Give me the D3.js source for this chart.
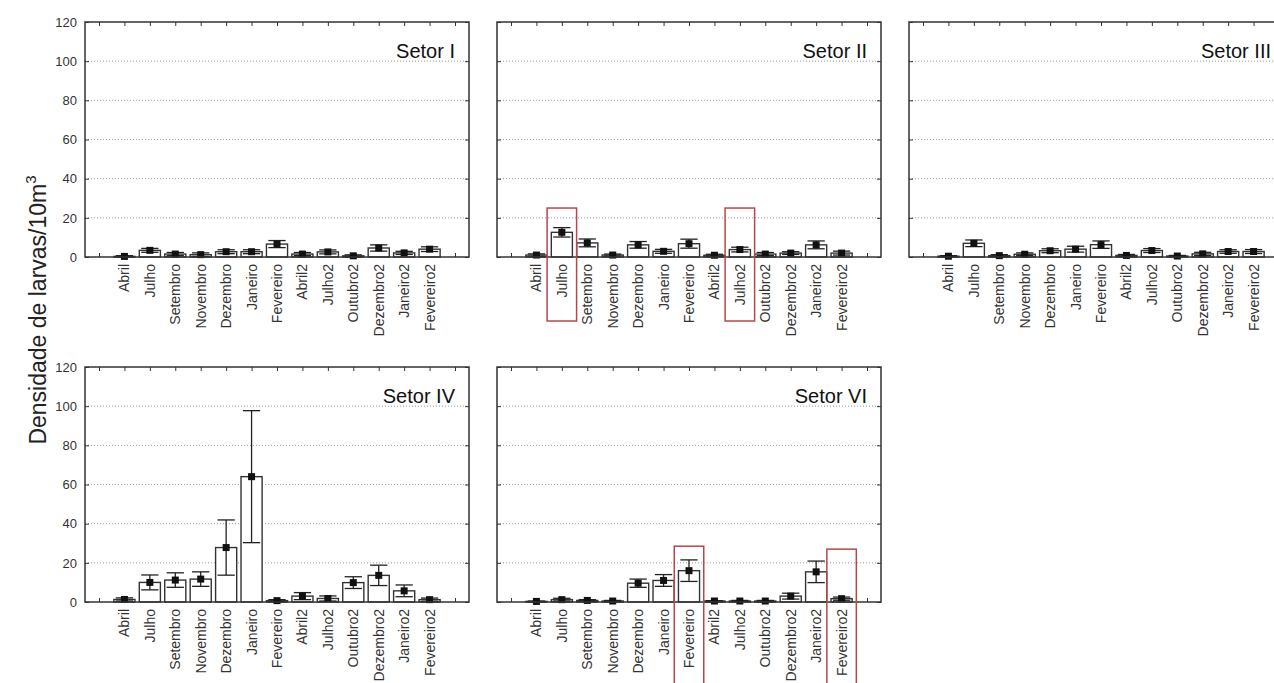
<!DOCTYPE html>
<html>

<head>
  <title>Densidade de larvas</title>
  <script src="https://cdn.jsdelivr.net/npm/d3@7"></script>
  <style>
    body { margin: 0; background: #fff; }
    text { font-family: "Liberation Sans", Arial, sans-serif; }
  </style>
</head>

<body>
  <svg width="1274" height="683" id="mainsvg"></svg>
  <script>
    // months sampled (second campaign suffixed with 2)
    const categories = ['Abril', 'Julho', 'Setembro', 'Novembro', 'Dezembro', 'Janeiro', 'Fevereiro',
      'Abril2', 'Julho2', 'Outubro2', 'Dezembro2', 'Janeiro2', 'Fevereiro2'];
    const sectors = ['Setor I', 'Setor II', 'Setor III', 'Setor IV', 'Setor VI'];

    // mean density and error (half length of the bar) per sector
    const meanI = [0.3, 3.4, 1.5, 1.2, 2.7, 2.7, 6.6, 1.5, 2.6, 0.6, 4.6, 2.1, 4.0];
    const errI = [0.4, 1.0, 0.8, 0.9, 1.0, 1.0, 1.8, 0.8, 1.0, 0.5, 1.6, 0.8, 1.2];
    const meanII = [1.0, 12.6, 7.2, 1.0, 6.2, 2.9, 6.8, 0.9, 3.8, 1.5, 2.0, 6.2, 2.0];
    const errII = [0.6, 2.4, 2.0, 0.5, 1.7, 1.0, 2.3, 0.5, 1.2, 0.8, 0.7, 2.0, 1.0];
    const meanIII = [0.4, 7.0, 0.7, 1.4, 3.2, 4.0, 6.3, 0.8, 3.3, 0.5, 1.6, 2.8, 2.8];
    const errIII = [0.3, 1.7, 0.5, 0.7, 1.0, 1.5, 1.9, 0.5, 1.0, 0.3, 0.8, 0.9, 1.0];
    const meanIV = [1.3, 10.0, 11.2, 11.7, 27.8, 64.0, 0.7, 3.0, 1.8, 9.9, 13.6, 5.7, 1.2];
    const errIV = [0.8, 3.8, 3.7, 3.7, 14.1, 33.7, 0.5, 1.8, 1.3, 3.0, 5.2, 3.0, 0.8];
    const meanVI = [0.3, 1.2, 0.8, 0.5, 9.6, 11.0, 16.0, 0.5, 0.5, 0.5, 3.0, 15.4, 1.7];
    const errVI = [0.2, 0.7, 0.4, 0.3, 2.1, 3.0, 5.5, 0.2, 0.3, 0.3, 1.5, 5.5, 0.8];

    const yTicks = [0, 20, 40, 60, 80, 100, 120];

    // red boxes drawn over the figure (sector, month, box top in y units)
    const highlights = [
      ['Setor II', 'Julho', 25],
      ['Setor II', 'Julho2', 25],
      ['Setor VI', 'Fevereiro', 28.5],
      ['Setor VI', 'Fevereiro2', 27]
    ];

    const means = [meanI, meanII, meanIII, meanIV, meanVI];
    const errs = [errI, errII, errIII, errIV, errVI];

    const svg = d3.select('#mainsvg');
    const W = +svg.attr('width');
    const pw = 384, ph = 235;
    const origins = [[85, 22], [497, 22], [909, 22], [85, 367], [497, 367]];

    const x = d3.scaleLinear().domain([-0.55, 14.55]).range([0, pw]);
    const y = d3.scaleLinear().domain([0, 120]).range([ph, 0]);
    const xPos = c => x(categories.indexOf(c) + 1);
    const unit = x(1) - x(0);

    sectors.forEach((name, si) => {
      const [ox, oy] = origins[si];
      const g = svg.append('g').attr('transform', `translate(${ox},${oy})`);
      const data = categories.map((c, i) => ({ c, m: means[si][i], e: errs[si][i] }));

      // dotted grid
      g.selectAll('.grid').data(yTicks.filter(t => t > 0 && t < 120)).join('line')
        .attr('x1', 0).attr('x2', pw).attr('y1', d => y(d)).attr('y2', d => y(d))
        .attr('stroke', '#9a9a9a').attr('stroke-width', 1).attr('stroke-dasharray', '1,2');

      // left axis, ticks point inside
      const ya = g.append('g').call(d3.axisLeft(y).tickValues(yTicks).tickSize(-4).tickPadding(8));
      ya.select('.domain').remove();
      ya.selectAll('line').attr('stroke', '#333');
      ya.selectAll('text').attr('font-size', 13).attr('fill', '#333')
        .attr('font-family', '"Liberation Sans", Arial, sans-serif');
      if (si !== 0 && si !== 3) ya.selectAll('text').remove();

      const ra = g.append('g').attr('transform', `translate(${pw},0)`)
        .call(d3.axisRight(y).tickValues(yTicks).tickSize(-4).tickFormat(''));
      ra.select('.domain').remove();
      ra.selectAll('line').attr('stroke', '#333');

      const ticks = d3.range(0, 15);
      const ta = g.append('g').call(d3.axisTop(x).tickValues(ticks).tickSize(-4).tickFormat(''));
      ta.select('.domain').remove();
      ta.selectAll('line').attr('stroke', '#333');
      const ba = g.append('g').attr('transform', `translate(0,${ph})`)
        .call(d3.axisBottom(x).tickValues(ticks).tickSize(-4).tickFormat(''));
      ba.select('.domain').remove();
      ba.selectAll('line').attr('stroke', '#333');

      // bars
      const bw = unit * 0.83;
      g.selectAll('.bar').data(data).join('rect')
        .attr('class', 'bar')
        .attr('x', d => xPos(d.c) - bw / 2).attr('width', bw)
        .attr('y', d => y(d.m)).attr('height', d => ph - y(d.m))
        .attr('fill', '#fff').attr('stroke', '#333').attr('stroke-width', 1.4);

      // error bars
      const cw = unit * 0.68;
      const eb = g.selectAll('.err').data(data).join('g').attr('class', 'err')
        .attr('stroke', '#222').attr('stroke-width', 1.3);
      eb.append('line').attr('x1', d => xPos(d.c)).attr('x2', d => xPos(d.c))
        .attr('y1', d => y(Math.max(0, d.m - d.e))).attr('y2', d => y(d.m + d.e));
      eb.append('line').attr('x1', d => xPos(d.c) - cw / 2).attr('x2', d => xPos(d.c) + cw / 2)
        .attr('y1', d => y(d.m + d.e)).attr('y2', d => y(d.m + d.e));
      eb.append('line').attr('x1', d => xPos(d.c) - cw / 2).attr('x2', d => xPos(d.c) + cw / 2)
        .attr('y1', d => y(Math.max(0, d.m - d.e))).attr('y2', d => y(Math.max(0, d.m - d.e)));

      // mean markers
      g.selectAll('.mk').data(data).join('rect')
        .attr('x', d => xPos(d.c) - 3.5).attr('y', d => y(d.m) - 3.5)
        .attr('width', 7).attr('height', 7).attr('fill', '#111');

      // frame
      g.append('rect').attr('width', pw).attr('height', ph)
        .attr('fill', 'none').attr('stroke', '#333').attr('stroke-width', 1.5);

      // month labels
      g.append('g')
        .selectAll('text').data(categories).join('text')
        .attr('transform', d => `translate(${xPos(d) + 5},${ph + 7}) rotate(-90)`)
        .attr('text-anchor', 'end')
        .attr('font-size', 14).attr('fill', '#333')
        .text(d => d);

      // sector title, kept inside the page for the clipped third panel
      g.append('text').attr('x', Math.min(pw - 14, W - 3 - ox)).attr('y', 36)
        .attr('text-anchor', 'end').attr('font-size', 20).attr('fill', '#111')
        .text(name);

      highlights.filter(h => h[0] === name).forEach(h => {
        g.append('rect')
          .attr('x', xPos(h[1]) - unit * 0.58).attr('width', unit * 1.16)
          .attr('y', y(h[2])).attr('height', ph - y(h[2]) + (si < 3 ? 64 : 90))
          .attr('fill', 'none').attr('stroke', '#b9464a').attr('stroke-width', 1.5);
      });
    });

    // shared y title
    const yt = svg.append('text')
      .attr('transform', 'translate(46,310) rotate(-90)')
      .attr('text-anchor', 'middle').attr('font-size', 23).attr('fill', '#222');
    yt.append('tspan').text('Densidade de larvas/10m');
    yt.append('tspan').attr('font-size', 15).attr('dy', -10).text('3');
  </script>
</body>

</html>
